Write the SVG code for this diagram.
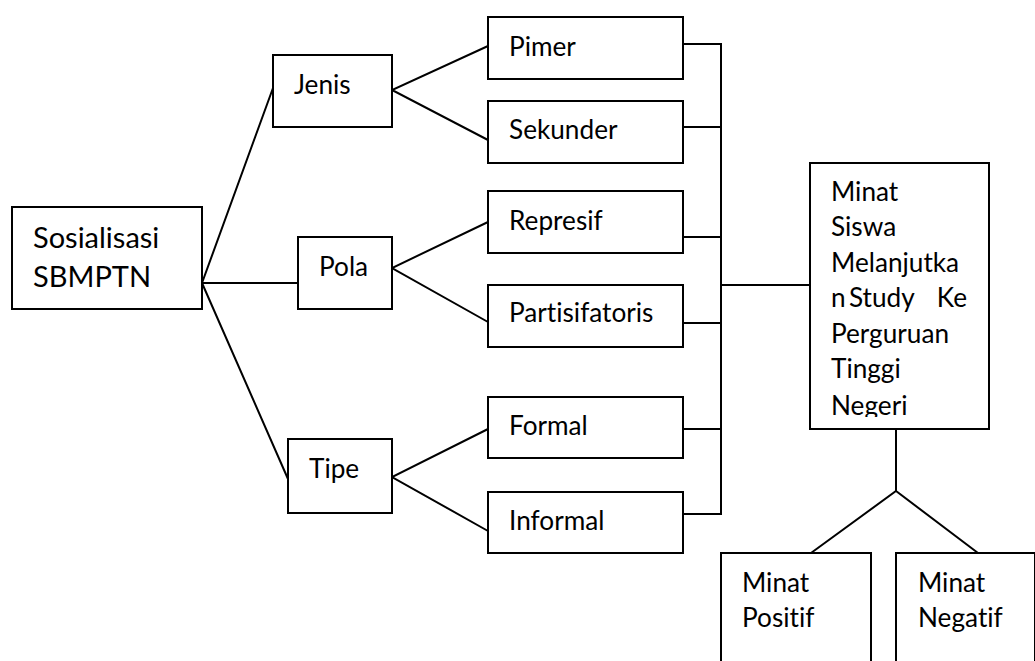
<svg xmlns="http://www.w3.org/2000/svg" width="1035" height="661" viewBox="0 0 1035 661">
<style>
.box{fill:#fff;stroke:#000;stroke-width:2}
.ln{fill:none;stroke:#000;stroke-width:2}
text{font-family:Lato,"Liberation Sans",sans-serif;font-size:26.2px;fill:#000;font-variant-ligatures:none}
.big{font-size:29px}
</style>
<defs>
<clipPath id="clipMinat"><rect x="810" y="163" width="179" height="254"/></clipPath>
</defs>
<rect width="1035" height="661" fill="#fff"/>
<g id="connectors">
<path class="ln" d="M202,283 L273,88 M202,283 L298,283 M202,283 L288,479"/>
<path class="ln" d="M488,46 L392,90 L488,140"/>
<path class="ln" d="M488,222 L392,268 L488,322"/>
<path class="ln" d="M488,429 L392,477 L488,531"/>
<path class="ln" d="M683,44 H721 M683,127 H721 M683,237 H721 M683,323 H721 M683,429 H721 M683,514 H721 M721,43 V515 M721,285 H810"/>
<path class="ln" d="M896,429 V491 M811,553 L896,491 L978,553"/>
</g>
<g id="sosialisasi"><rect class="box" x="12" y="207" width="190" height="102"/><text class="big" x="33" y="248">Sosialisasi</text><text class="big" x="33" y="287">SBMPTN</text></g>
<g id="jenis"><rect class="box" x="273" y="55" width="119" height="72"/><text x="294" y="94">Jenis</text></g>
<g id="pola"><rect class="box" x="298" y="237" width="94" height="72"/><text x="319" y="276">Pola</text></g>
<g id="tipe"><rect class="box" x="288" y="439" width="104" height="74"/><text x="309" y="478">Tipe</text></g>
<g id="pimer"><rect class="box" x="488" y="17" width="195" height="62"/><text x="509" y="56">Pimer</text></g>
<g id="sekunder"><rect class="box" x="488" y="101" width="195" height="62"/><text x="509" y="139">Sekunder</text></g>
<g id="represif"><rect class="box" x="488" y="191" width="195" height="62"/><text x="509" y="230">Represif</text></g>
<g id="partisifatoris"><rect class="box" x="488" y="285" width="195" height="62"/><text x="509" y="322">Partisifatoris</text></g>
<g id="formal"><rect class="box" x="488" y="397" width="195" height="61"/><text x="509" y="435">Formal</text></g>
<g id="informal"><rect class="box" x="488" y="492" width="195" height="61"/><text x="509" y="530">Informal</text></g>
<g id="minat-siswa"><rect class="box" x="810" y="163" width="179" height="266"/>
<g clip-path="url(#clipMinat)">
<text x="831" y="201">Minat</text>
<text x="831" y="236">Siswa</text>
<text x="831" y="272">Melanjutka</text>
<text y="307"><tspan x="831">n</tspan><tspan x="849">Study</tspan><tspan x="967" text-anchor="end">Ke</tspan></text>
<text x="831" y="343">Perguruan</text>
<text x="831" y="378">Tinggi</text>
<text x="831" y="415">Negeri</text>
</g></g>
<g id="minat-positif"><rect class="box" x="721" y="553" width="150" height="140"/><text x="742" y="592">Minat</text><text x="742" y="627">Positif</text></g>
<g id="minat-negatif"><rect class="box" x="896" y="553" width="139" height="140"/><text x="918" y="592">Minat</text><text x="918" y="627">Negatif</text></g>
</svg>
